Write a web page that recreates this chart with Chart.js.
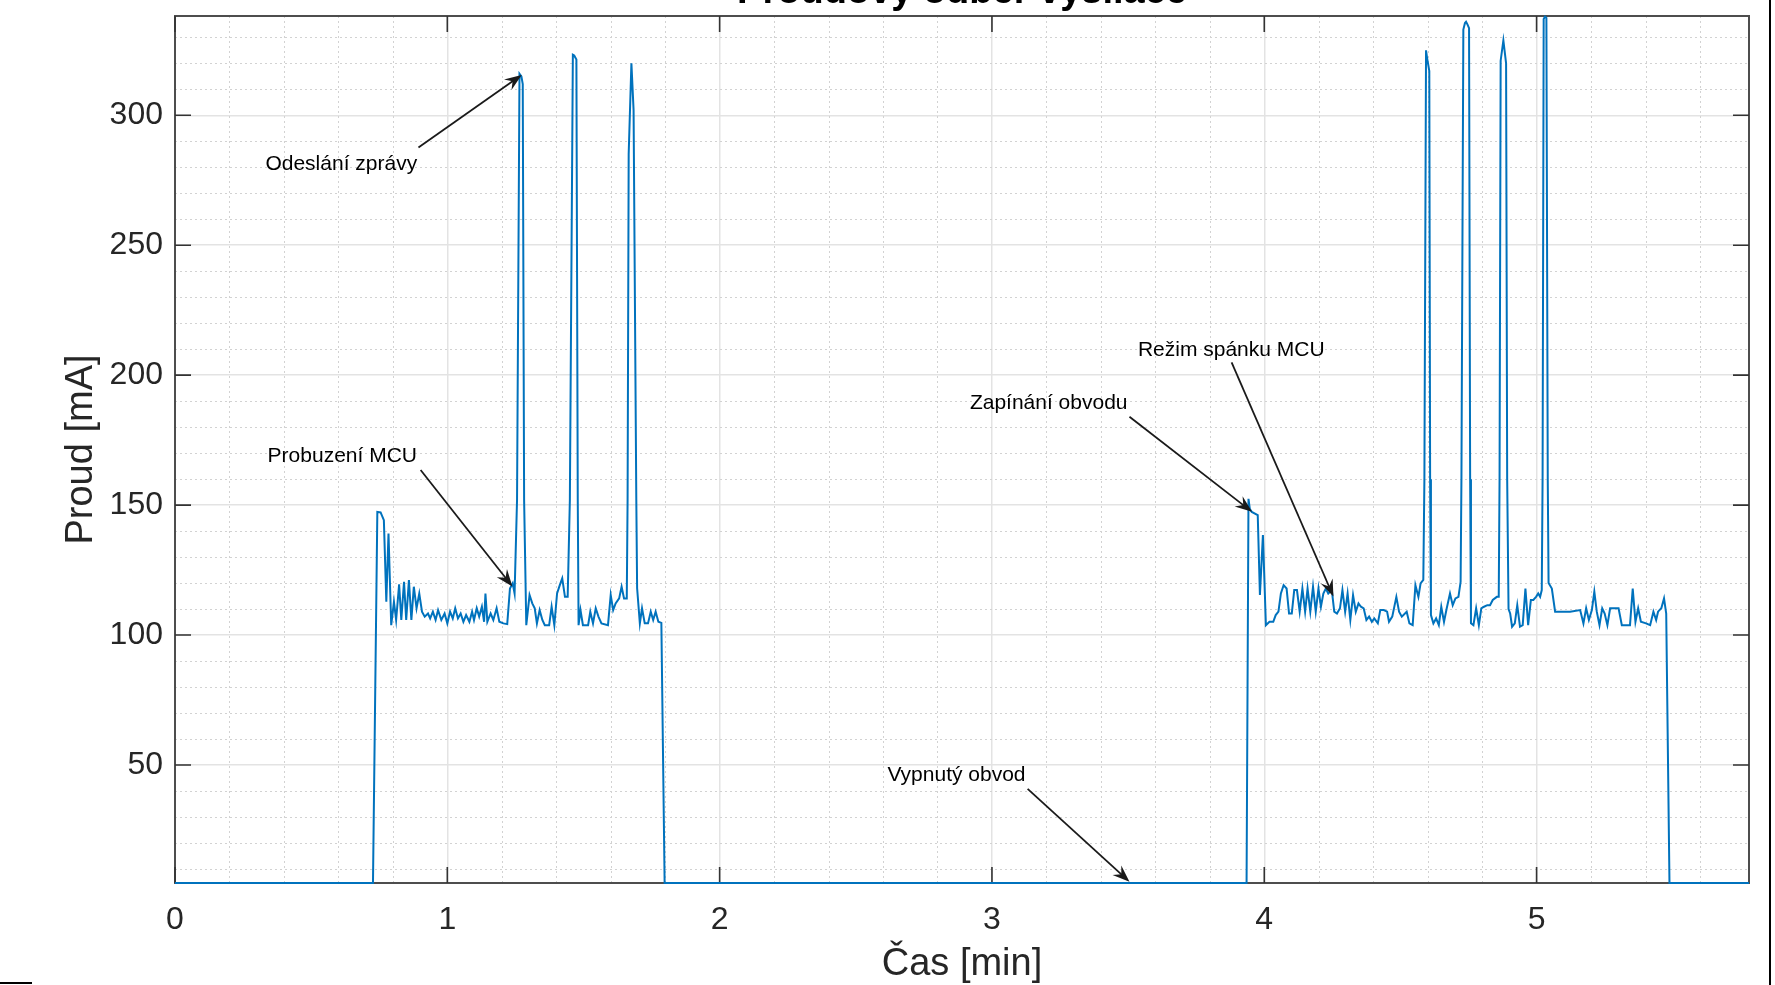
<!DOCTYPE html>
<html>
<head>
<meta charset="utf-8">
<script src="https://cdn.jsdelivr.net/npm/chart.js@4.4.1/dist/chart.umd.min.js"></script>
<style>
  html, body { margin: 0; padding: 0; background: #fff; overflow: hidden; }
  #wrap { width: 1775px; height: 985px; position: relative; }
</style>
</head>
<body>
<div id="wrap"><canvas id="currentChart"></canvas></div>
<script>
const timeMin = [
  0, 0.727,
  0.743, 0.755, 0.767, 0.776, 0.784, 0.794, 0.804, 0.812, 0.823, 0.831, 0.841, 0.849, 0.859, 0.868,
  0.877, 0.887, 0.897, 0.907, 0.917, 0.929, 0.937, 0.947, 0.957, 0.966, 0.978, 0.990, 1.000, 1.010,
  1.020, 1.029, 1.039, 1.049, 1.059, 1.069, 1.081, 1.091, 1.098, 1.108, 1.117, 1.127, 1.135, 1.140,
  1.147, 1.159, 1.169, 1.181, 1.191, 1.206, 1.220, 1.230, 1.240, 1.247,
  1.256, 1.265, 1.272, 1.277, 1.282,
  1.290, 1.302, 1.312, 1.321, 1.329, 1.339, 1.349, 1.358, 1.374, 1.383, 1.393, 1.403, 1.413, 1.422,
  1.432, 1.442,
  1.450, 1.461, 1.466, 1.474, 1.479,
  1.482, 1.489, 1.498, 1.517, 1.525, 1.535, 1.545, 1.555, 1.566, 1.590, 1.600, 1.609, 1.618, 1.631,
  1.640, 1.649, 1.659,
  1.662, 1.666, 1.676, 1.684, 1.694, 1.697,
  1.707, 1.715, 1.725, 1.737, 1.747, 1.756, 1.765, 1.775, 1.786, 1.798,
  3.935,
  3.942, 3.947, 3.954, 3.976, 3.984, 3.995, 4.006, 4.019, 4.033, 4.042, 4.052, 4.061, 4.071, 4.082,
  4.091, 4.101, 4.110, 4.120, 4.130, 4.140, 4.150, 4.159, 4.169, 4.179, 4.189, 4.199, 4.208, 4.217,
  4.226, 4.235, 4.248, 4.257, 4.267, 4.278, 4.287, 4.297, 4.306, 4.316, 4.326, 4.336, 4.346, 4.355,
  4.365, 4.375, 4.385, 4.395, 4.404, 4.417, 4.426, 4.439, 4.451, 4.458, 4.470, 4.485, 4.495, 4.505,
  4.523, 4.533, 4.545, 4.555, 4.566, 4.574, 4.584,
  4.588, 4.594, 4.598, 4.606, 4.609,
  4.612, 4.621, 4.631, 4.641, 4.650, 4.660, 4.670, 4.682, 4.692, 4.702, 4.713, 4.721,
  4.724, 4.731, 4.737, 4.741, 4.746, 4.752, 4.756,
  4.759, 4.768, 4.778, 4.788, 4.797, 4.807, 4.819, 4.829, 4.839, 4.854, 4.861,
  4.864, 4.868, 4.878, 4.888, 4.892,
  4.897, 4.903, 4.910, 4.920, 4.929, 4.939, 4.949, 4.959, 4.969, 4.979, 4.988, 4.998, 5.006, 5.013, 5.019,
  5.022, 5.026, 5.031, 5.036, 5.041,
  5.044, 5.056, 5.068, 5.099, 5.123, 5.160, 5.172, 5.182, 5.192, 5.203, 5.212, 5.221, 5.231, 5.241,
  5.250, 5.260, 5.270, 5.301, 5.313, 5.343, 5.353, 5.363, 5.373, 5.383, 5.402, 5.417, 5.429, 5.439,
  5.446, 5.458, 5.468, 5.476, 5.488,
  5.78
];

const currentMA = [
  4.6, 4.6,
  147.4, 147.2, 144.2, 112.8, 139.1, 103.8, 112.8, 105.8, 119.5, 105.8, 120.5, 105.8, 121.2, 105.8,
  118.6, 110.3, 116.0, 109.0, 107.1, 108.3, 106.4, 109.0, 105.8, 109.6, 105.8, 108.3, 104.5, 109.0,
  106.4, 110.3, 106.4, 108.3, 105.1, 107.7, 105.1, 109.0, 105.8, 110.3, 107.1, 110.9, 105.1, 116.0,
  105.1, 108.3, 105.8, 110.3, 105.1, 104.5, 104.2, 117.9, 119.9, 116.0,
  152, 316, 315, 312, 152,
  103.8, 115.4, 112.2, 110.3, 104.5, 109.6, 105.8, 103.8, 103.8, 110.9, 103.8, 116.0, 119.2, 121.8,
  114.7, 114.7,
  152, 323.3, 323, 321.5, 152,
  103.8, 109.6, 103.8, 103.8, 109.0, 104.5, 110.3, 107.1, 104.5, 103.8, 115.4, 109.6, 112.2, 114.1,
  118.6, 114.1, 114.1,
  152, 285, 320, 302, 152, 118,
  104.5, 110.3, 104.5, 104.5, 109.0, 105.8, 109.0, 105.1, 104.7, 4.6,
  4.6,
  152.4, 148.5, 147.4, 146.2, 115.4, 138.5, 103.8, 105.1, 105.1, 107.7, 109.0, 116.0, 119.2, 117.9,
  108.3, 108.3, 117.3, 117.3, 109.0, 117.9, 109.0, 117.9, 109.0, 118.6, 109.0, 117.9, 110.9, 116.0,
  117.9, 116.0, 117.3, 109.0, 108.3, 110.3, 117.3, 109.0, 116.0, 105.8, 115.4, 109.0, 112.2, 110.9,
  110.3, 105.8, 107.1, 105.1, 106.4, 104.5, 109.6, 109.6, 109.0, 105.1, 107.1, 114.7, 109.0, 107.1,
  109.0, 104.5, 103.8, 119.2, 114.7, 119.9, 121.2,
  160, 325, 322, 317, 160,
  107.7, 104.5, 106.4, 103.8, 110.9, 105.1, 110.3, 116.0, 111.5, 114.1, 114.7, 120.5,
  160, 333, 335.5, 336, 335, 333.5, 160,
  104.5, 103.8, 110.3, 103.8, 110.3, 110.9, 111.5, 111.5, 113.5, 114.7, 114.7,
  160, 321, 328.8, 320, 160,
  110, 108.3, 103.2, 104.5, 111.5, 103.2, 103.8, 117.9, 103.8, 113.5, 113.5, 114.7, 116.0, 114.7, 117.3,
  160, 337, 338, 337.5, 160,
  120, 117.9, 109.0, 109.0, 109.0, 109.6, 104.5, 110.3, 105.8, 109.6, 116.7, 109.0, 103.8, 110.3,
  108.3, 103.8, 110.3, 110.3, 103.8, 103.8, 117.9, 105.1, 110.3, 105.1, 104.5, 103.8, 109.0, 105.8,
  109.0, 110.3, 114.1, 108.3, 4.6,
  4.6
];

const xTicks = [0, 1, 2, 3, 4, 5];
const yTicks = [50, 100, 150, 200, 250, 300];

// text arrows: label position, arrow tail, arrow head (data units)
const notes = [
  { text: 'Odeslání zprávy', at: [0.332, 281.2], from: [0.894, 287.6], to: [1.273, 315.5] },
  { text: 'Probuzení MCU', at: [0.340, 168.8], from: [0.902, 163.5], to: [1.239, 118.7] },
  { text: 'Zapínání obvodu', at: [2.919, 189.2], from: [3.505, 184.0], to: [3.955, 147.4] },
  { text: 'Režim spánku MCU', at: [3.536, 209.6], from: [3.880, 204.9], to: [4.254, 114.8] },
  { text: 'Vypnutý obvod', at: [2.616, 46.2], from: [3.131, 40.8], to: [3.505, 5.1] }
];

const FONT = '"Liberation Sans", Arial, Helvetica, sans-serif';

function drawArrow(ctx, x1, y1, x2, y2) {
  const ang = Math.atan2(y2 - y1, x2 - x1);
  const len = 17, half = 6.5;
  const ux = Math.cos(ang), uy = Math.sin(ang);
  const nx = -uy, ny = ux;
  ctx.beginPath();
  ctx.moveTo(x1, y1);
  ctx.lineTo(x2 - ux * len * 0.6, y2 - uy * len * 0.6);
  ctx.stroke();
  ctx.beginPath();
  ctx.moveTo(x2, y2);
  ctx.lineTo(x2 - ux * len + nx * half, y2 - uy * len + ny * half);
  ctx.lineTo(x2 - ux * len * 0.65, y2 - uy * len * 0.65);
  ctx.lineTo(x2 - ux * len - nx * half, y2 - uy * len - ny * half);
  ctx.closePath();
  ctx.fill();
}

const matlabFrame = {
  id: 'matlabFrame',
  beforeDatasetsDraw(chart) {
    const { ctx, chartArea: a, scales: { x, y } } = chart;
    ctx.save();
    // minor grid
    ctx.strokeStyle = '#d2d2d2';
    ctx.lineWidth = 1;
    ctx.setLineDash([2, 3]);
    ctx.beginPath();
    for (let v = 0.2; v < x.max; v += 0.2) {
      if (Math.abs(v - Math.round(v)) < 1e-6) continue;
      const px = Math.round(x.getPixelForValue(v)) + 0.5;
      ctx.moveTo(px, a.top);
      ctx.lineTo(px, a.bottom);
    }
    for (let v = 10; v < y.max; v += 10) {
      if (v % 50 === 0 || v < y.min) continue;
      const py = Math.round(y.getPixelForValue(v)) + 0.5;
      ctx.moveTo(a.left, py);
      ctx.lineTo(a.right, py);
    }
    ctx.stroke();
    ctx.setLineDash([]);

    // axes box, under the data like MATLAB
    ctx.strokeStyle = '#4d4d4d';
    ctx.lineWidth = 2;
    ctx.strokeRect(a.left, a.top, a.right - a.left, a.bottom - a.top);
    // inward ticks
    ctx.strokeStyle = '#333';
    ctx.lineWidth = 1.6;
    ctx.beginPath();
    const tl = 16;
    xTicks.forEach(v => {
      const px = x.getPixelForValue(v);
      ctx.moveTo(px, a.bottom); ctx.lineTo(px, a.bottom - tl);
      ctx.moveTo(px, a.top); ctx.lineTo(px, a.top + tl);
    });
    yTicks.forEach(v => {
      const py = y.getPixelForValue(v);
      ctx.moveTo(a.left, py); ctx.lineTo(a.left + tl, py);
      ctx.moveTo(a.right, py); ctx.lineTo(a.right - tl, py);
    });
    ctx.stroke();
    ctx.restore();
  },
  afterDraw(chart) {
    const { ctx, chartArea: a, scales: { x, y } } = chart;
    ctx.save();
    // annotations
    ctx.strokeStyle = '#1a1a1a';
    ctx.fillStyle = '#1a1a1a';
    ctx.lineWidth = 1.8;
    notes.forEach(n => {
      drawArrow(ctx,
        x.getPixelForValue(n.from[0]), y.getPixelForValue(n.from[1]),
        x.getPixelForValue(n.to[0]), y.getPixelForValue(n.to[1]));
    });
    ctx.fillStyle = '#000';
    ctx.font = '21px ' + FONT;
    ctx.textAlign = 'left';
    ctx.textBaseline = 'middle';
    notes.forEach(n => {
      ctx.fillText(n.text, x.getPixelForValue(n.at[0]), y.getPixelForValue(n.at[1]));
    });

    // title, cut off by the top of the figure
    ctx.font = 'bold 38px ' + FONT;
    ctx.textAlign = 'center';
    ctx.textBaseline = 'alphabetic';
    ctx.fillText('Proudový odběr vysílače', (a.left + a.right) / 2, 3);

    // figure edge lines
    ctx.strokeStyle = '#000';
    ctx.lineWidth = 2;
    ctx.beginPath();
    ctx.moveTo(1770, 0); ctx.lineTo(1770, 985);
    ctx.moveTo(0, 983); ctx.lineTo(32, 983);
    ctx.stroke();
    ctx.restore();
  }
};

const points = timeMin.map((t, i) => ({ x: t, y: currentMA[i] }));

new Chart(document.getElementById('currentChart').getContext('2d'), {
  type: 'line',
  data: {
    datasets: [{
      label: 'Proud',
      data: points,
      borderColor: '#0072BD',
      borderWidth: 2,
      pointRadius: 0,
      tension: 0,
      fill: false,
      clip: 3
    }]
  },
  options: {
    responsive: true,
    maintainAspectRatio: false,
    animation: false,
    parsing: false,
    layout: { padding: { left: 0, right: 26, top: 16, bottom: 0 } },
    plugins: {
      legend: { display: false },
      tooltip: { enabled: false }
    },
    scales: {
      x: {
        type: 'linear',
        min: 0,
        max: 5.78,
        afterBuildTicks: s => { s.ticks = xTicks.map(v => ({ value: v })); },
        afterFit: s => { s.height = 102; s.paddingLeft = 0; s.paddingRight = 0; },
        ticks: {
          autoSkip: false,
          maxRotation: 0,
          padding: 18,
          color: '#262626',
          font: { family: FONT, size: 32 },
          callback: v => String(v)
        },
        grid: { color: '#e3e3e3', lineWidth: 1.5, drawTicks: false },
        border: { display: false },
        title: {
          display: true,
          text: 'Čas [min]',
          color: '#262626',
          font: { family: FONT, size: 38, lineHeight: 1.1 },
          padding: { top: 0, bottom: 0 }
        }
      },
      y: {
        type: 'linear',
        min: 4.6,
        max: 338.2,
        afterBuildTicks: s => { s.ticks = yTicks.map(v => ({ value: v })); },
        afterFit: s => { s.width = 175; s.paddingTop = 0; s.paddingBottom = 0; },
        ticks: {
          padding: 12,
          color: '#262626',
          font: { family: FONT, size: 32 },
          callback: v => String(v)
        },
        grid: { color: '#e3e3e3', lineWidth: 1.5, drawTicks: false },
        border: { display: false },
        title: {
          display: true,
          text: 'Proud [mA]',
          color: '#262626',
          font: { family: FONT, size: 38, lineHeight: 1.1 },
          padding: { top: 61, bottom: 0 }
        }
      }
    }
  },
  plugins: [matlabFrame]
});
</script>
</body>
</html>
